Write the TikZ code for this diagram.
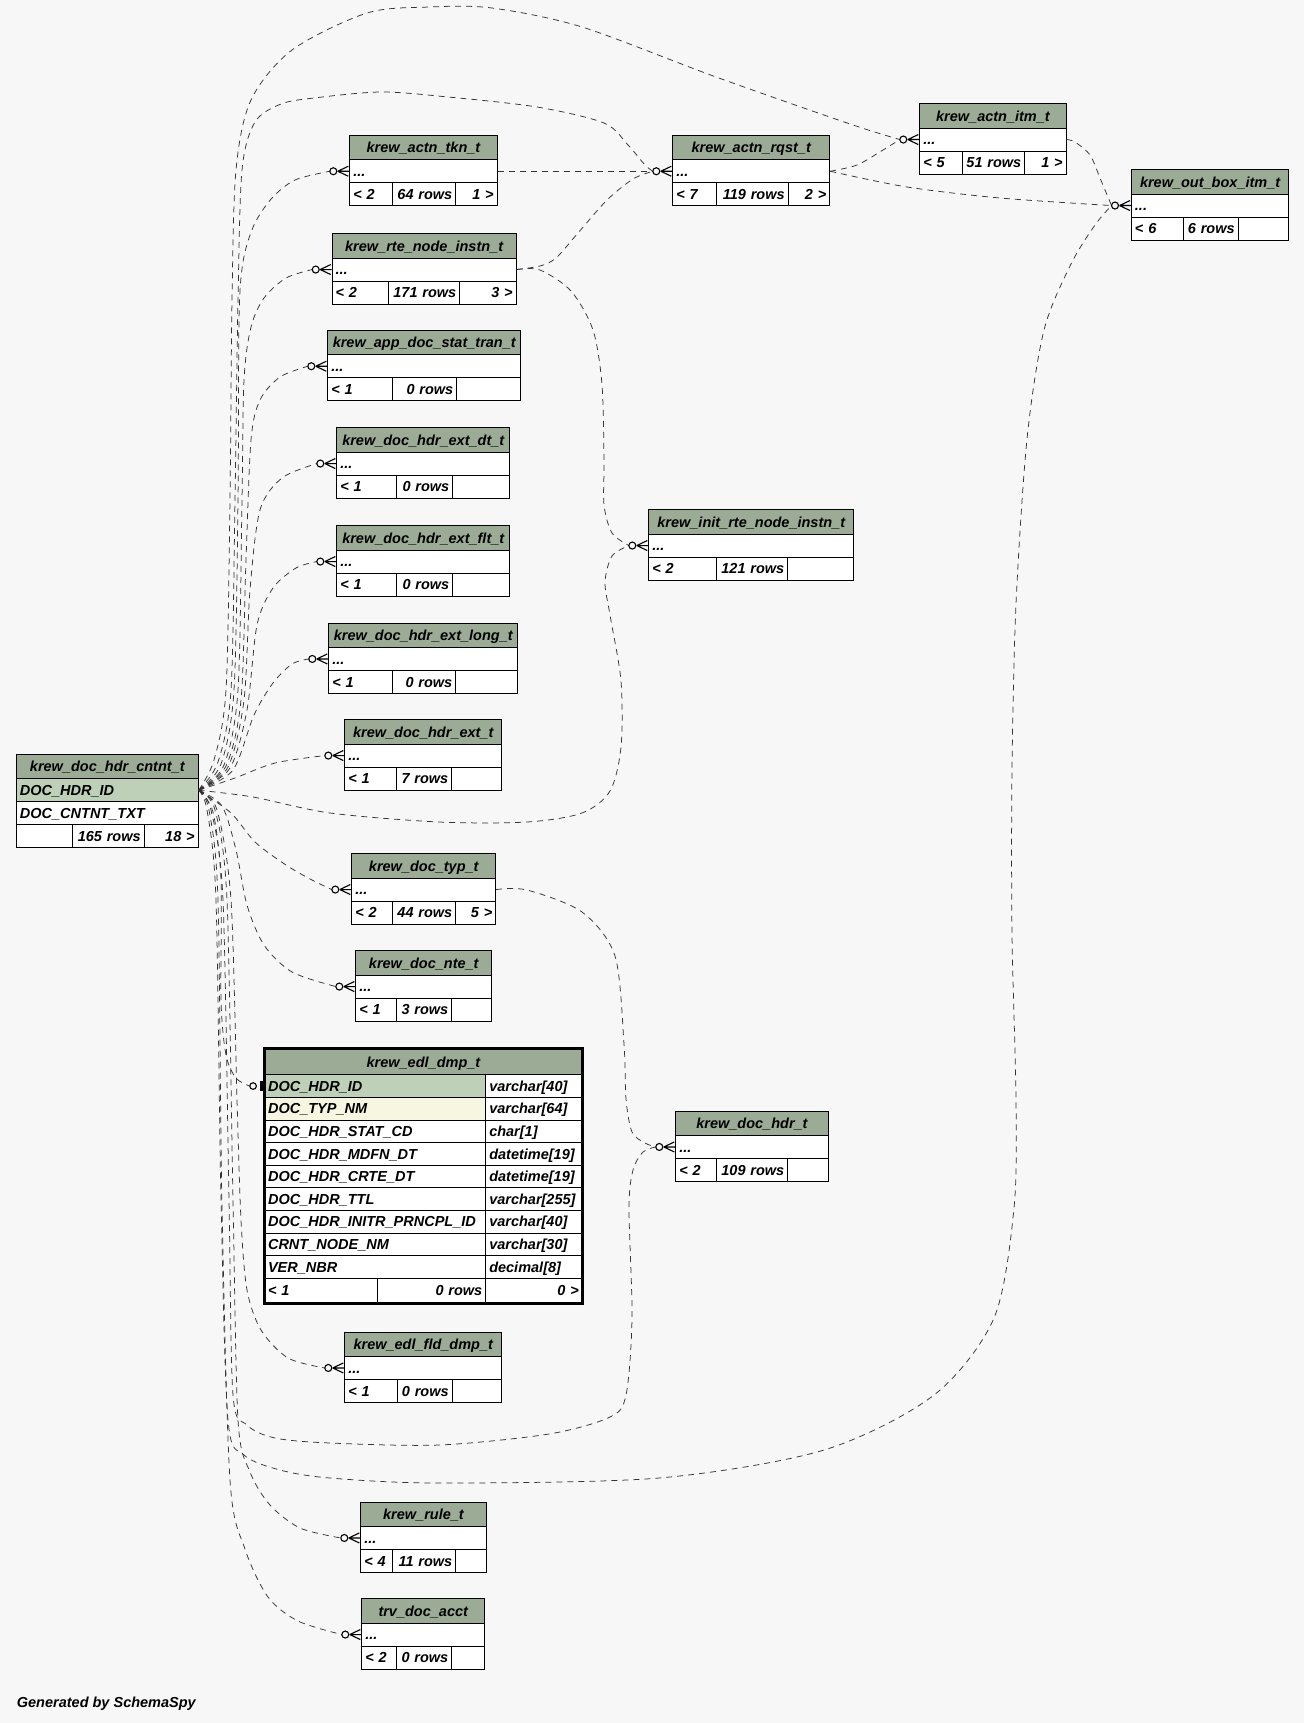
\documentclass[tikz,border=0pt]{standalone}
\usepackage{fontspec}
\setmainfont{Liberation Sans}
\usetikzlibrary{calc}
\definecolor{bgc}{HTML}{F7F7F7}
\definecolor{hdrc}{HTML}{9BAB96}
\definecolor{pkc}{HTML}{BED1B8}
\definecolor{idxc}{HTML}{F7F7E1}
\newcommand\erdfont{\bfseries\itshape\fontsize{14.5}{17}\selectfont}
\tikzset{
  erdbase/.style={draw=black, line width=0.9pt, inner xsep=3.5pt, inner ysep=0pt,
    anchor=north west, font=\erdfont, text height=10.5pt, text depth=0pt},
  rel/.style={draw=black!80, line width=0.75pt, dash pattern=on 6pt off 5pt},
  endsty/.style={draw=black, line width=1.1pt, solid}
}
% footer row: name, xl, xr, y, d1, d2, L, M, R
\newcommand\erdfoot[9]{%
  \pgfmathsetmacro\wa{#5-#2}\pgfmathsetmacro\wai{#5-#2-7}%
  \pgfmathsetmacro\wb{#6-#5}\pgfmathsetmacro\wbi{#6-#5-7}%
  \pgfmathsetmacro\wc{#3-#6}\pgfmathsetmacro\wci{#3-#6-7}%
  \node[erdbase, fill=white, minimum width=\wa pt, minimum height=23pt, text width=\wai pt, align=left] (#1-f1) at (#2,{#4}) {\mbox{#7}};
  \node[erdbase, fill=white, minimum width=\wb pt, minimum height=23pt, text width=\wbi pt, align=right] (#1-f2) at (#5,{#4}) {\mbox{#8}};
  \node[erdbase, fill=white, minimum width=\wc pt, minimum height=23pt, text width=\wci pt, align=right] (#1-f3) at (#6,{#4}) {\mbox{#9}};
}
% table: name, title, xl, xr, ytop, d1, d2, {L}{M}{R}
\newcommand\erdtbl[8]{%
  \pgfmathsetmacro\tw{#4-#3}\pgfmathsetmacro\twi{#4-#3-7}%
  \node[erdbase, fill=hdrc, minimum width=\tw pt, minimum height=24.3pt, text width=\twi pt, align=center] (#1-h) at (#3,#5) {\mbox{#2}};
  \node[erdbase, fill=white, minimum width=\tw pt, minimum height=23pt, text width=\twi pt, align=left] (#1-r) at (#3,{#5+24.3}) {...};
  \coordinate (#1-e) at ($(#1-r.west)+(-19.5,0)$);
  \erdfoot{#1}{#3}{#4}{#5+47.3}{#6}{#7}#8%
}
% zero-or-many end at the west side of a row node
\newcommand\zmany[1]{%
  \draw[endsty, fill=bgc] ($(#1.west)+(-16,0)$) circle[radius=3.5pt];
  \draw[endsty] ($(#1.west)+(-11.5,0)$) -- ($(#1.west)+(-1,5)$)
                ($(#1.west)+(-11.5,0)$) -- (#1.west)
                ($(#1.west)+(-11.5,0)$) -- ($(#1.west)+(-1,-5)$);
}
\begin{document}
\begin{tikzpicture}[x=1pt,y=-1pt]
\fill[bgc] (0,0) rectangle (1304,1723);
\useasboundingbox (0,0) rectangle (1304,1723);

% ---------- parent table ----------
\node[erdbase, fill=hdrc, minimum width=181.7pt, minimum height=24.3pt, text width=174.7pt, align=center] (cntnt-h) at (16,754) {krew\_doc\_hdr\_cntnt\_t};
\node[erdbase, fill=pkc, minimum width=181.7pt, minimum height=23pt, text width=174.7pt, align=left] (cntnt-pk) at (16,778.3) {DOC\_HDR\_ID};
\node[erdbase, fill=white, minimum width=181.7pt, minimum height=23pt, text width=174.7pt, align=left] (cntnt-tx) at (16,801.3) {DOC\_CNTNT\_TXT};
\erdfoot{cntnt}{16}{197.7}{824.3}{72.3}{143.7}{}{165 rows}{18 >}

% ---------- simple tables ----------
\erdtbl{tkn}{krew\_actn\_tkn\_t}{349.3}{496.7}{135}{392.3}{455.3}{{< 2}{64 rows}{1 >}}
\erdtbl{rqst}{krew\_actn\_rqst\_t}{672.3}{829.3}{135}{716}{787.7}{{< 7}{119 rows}{2 >}}
\erdtbl{itm}{krew\_actn\_itm\_t}{919.3}{1065.7}{103.3}{961.7}{1024.3}{{< 5}{51 rows}{1 >}}
\erdtbl{obox}{krew\_out\_box\_itm\_t}{1131}{1288.3}{169.3}{1183.3}{1237.7}{{< 6}{6 rows}{}}
\erdtbl{rte}{krew\_rte\_node\_instn\_t}{331.7}{515.7}{233.3}{388.3}{459.3}{{< 2}{171 rows}{3 >}}
\erdtbl{app}{krew\_app\_doc\_stat\_tran\_t}{327.3}{520.3}{330}{392.3}{456.3}{{< 1}{0 rows}{}}
\erdtbl{edt}{krew\_doc\_hdr\_ext\_dt\_t}{336.3}{509.3}{427.3}{395.7}{452.3}{{< 1}{0 rows}{}}
\erdtbl{eflt}{krew\_doc\_hdr\_ext\_flt\_t}{336.3}{509.3}{525.3}{395.7}{452.3}{{< 1}{0 rows}{}}
\erdtbl{elong}{krew\_doc\_hdr\_ext\_long\_t}{328.3}{517.3}{622.7}{392.3}{455.3}{{< 1}{0 rows}{}}
\erdtbl{ext}{krew\_doc\_hdr\_ext\_t}{344.3}{501.3}{719.3}{396.3}{451.3}{{< 1}{7 rows}{}}
\erdtbl{init}{krew\_init\_rte\_node\_instn\_t}{648.3}{853.3}{509.3}{716.3}{787.3}{{< 2}{121 rows}{}}
\erdtbl{typ}{krew\_doc\_typ\_t}{351.3}{495.3}{853.3}{392.3}{455.3}{{< 2}{44 rows}{5 >}}
\erdtbl{nte}{krew\_doc\_nte\_t}{355.3}{491.3}{950.3}{396.3}{451.3}{{< 1}{3 rows}{}}
\erdtbl{hdr}{krew\_doc\_hdr\_t}{675.3}{827.7}{1110.7}{716.3}{787.3}{{< 2}{109 rows}{}}
\erdtbl{fld}{krew\_edl\_fld\_dmp\_t}{344.3}{501.3}{1331.7}{396.7}{451.7}{{< 1}{0 rows}{}}
\erdtbl{rule}{krew\_rule\_t}{360.3}{485.7}{1501.7}{392.3}{455.3}{{< 4}{11 rows}{}}
\erdtbl{trv}{trv\_doc\_acct}{361.3}{484.3}{1598.3}{396}{451.3}{{< 2}{0 rows}{}}

% ---------- krew_edl_dmp_t (focus table) ----------
\node[erdbase, fill=hdrc, minimum width=317.8pt, minimum height=25.6pt, text width=310.8pt, align=center] (edl-h) at (264.1,1048.7) {krew\_edl\_dmp\_t};
\foreach \nm/\ty/\cl [count=\i from 0] in {DOC\_HDR\_ID/varchar[40]/pkc, DOC\_TYP\_NM/varchar[64]/idxc, DOC\_HDR\_STAT\_CD/char[1]/white, DOC\_HDR\_MDFN\_DT/datetime[19]/white, DOC\_HDR\_CRTE\_DT/datetime[19]/white, DOC\_HDR\_TTL/varchar[255]/white, DOC\_HDR\_INITR\_PRNCPL\_ID/varchar[40]/white, CRNT\_NODE\_NM/varchar[30]/white, VER\_NBR/decimal[8]/white}{
  \node[erdbase, fill=\cl, minimum width=221.2pt, minimum height=22.6pt, text width=214.2pt, align=left] (edl-c\i) at (264.1,{1074.3+22.6*\i}) {\mbox{\nm}};
  \node[erdbase, fill=white, minimum width=96.6pt, minimum height=22.6pt, text width=89.6pt, align=left] (edl-t\i) at (485.3,{1074.3+22.6*\i}) {\mbox{\ty}};
}
\node[erdbase, fill=white, minimum width=112.6pt, minimum height=24.9pt, text width=105.6pt, align=left] (edl-f1) at (264.1,1277.7) {< 1};
\node[erdbase, fill=white, minimum width=108.6pt, minimum height=24.9pt, text width=101.6pt, align=right] (edl-f2) at (376.7,1277.7) {0 rows};
\node[erdbase, fill=white, minimum width=96.6pt, minimum height=24.9pt, text width=89.6pt, align=right] (edl-f3) at (485.3,1277.7) {0 >};
\draw[line width=2.8pt] (edl-h.north west) rectangle (edl-f3.south east);
\coordinate (edl-e) at ($(edl-c0.west)+(-14.5,0)$);

% ---------- relationships from krew_doc_hdr_cntnt_t ----------
\draw[rel] plot[smooth, tension=0.5] coordinates {(cntnt-pk.east) (214,760) (226,690) (230,500) (232,300) (236,170) (251,100) (292,50) (367,13) (430,7) (492,8) (582,27) (716,77) (850,124) (itm-e)};
\draw[rel] plot[smooth, tension=0.5] coordinates {(cntnt-pk.east) (218,762) (231,690) (235,500) (238,300) (242,170) (255,122) (281,104) (314,98) (381,92) (448,97) (537,107) (604,123) (628,145) (645,165) (rqst-e)};
\draw[rel] plot[smooth, tension=0.5] coordinates {(cntnt-pk.east) (221,764) (234,690) (238,500) (239,320) (243,262) (254,225) (272,198) (295,180) (tkn-e)};
\draw[rel] plot[smooth, tension=0.5] coordinates {(cntnt-pk.east) (224,765) (238,690) (242,500) (244,380) (251,327) (264,298) (286,278) (rte-e)};
\draw[rel] plot[smooth, tension=0.5] coordinates {(cntnt-pk.east) (226,766) (241,700) (246,560) (251,440) (260,400) (280,377) (app-e)};
\draw[rel] plot[smooth, tension=0.5] coordinates {(cntnt-pk.east) (228,767) (244,700) (250,590) (260,510) (282,478) (edt-e)};
\draw[rel] plot[smooth, tension=0.5] coordinates {(cntnt-pk.east) (230,768) (247,710) (257,625) (273,588) (296,568) (eflt-e)};
\draw[rel] plot[smooth, tension=0.5] coordinates {(cntnt-pk.east) (233,770) (254,715) (273,683) (292,664) (elong-e)};
\draw[rel] plot[smooth, tension=0.5] coordinates {(cntnt-pk.east) (235,778) (275,763) (ext-e)};
\draw[rel] plot[smooth, tension=0.5] coordinates {(cntnt-pk.east) (253,797) (330,813) (439,822) (527,822) (582,813) (610,791) (621,747) (621,681) (610,615) (605,582) (612,556) (init-e)};
\draw[rel] plot[smooth, tension=0.5] coordinates {(cntnt-pk.east) (231,813) (255,842) (286,865) (312,880) (typ-e)};
\draw[rel] plot[smooth, tension=0.5] coordinates {(cntnt-pk.east) (222,806) (236,850) (247,905) (264,945) (292,972) (nte-e)};
\draw[rel] plot[smooth, tension=0.5] coordinates {(cntnt-pk.east) (213,812) (221,880) (221,1000) (226,1055) (236,1078) (edl-e)};
\draw[rel] plot[smooth, tension=0.5] coordinates {(cntnt-pk.east) (217,810) (231,900) (237,1100) (241,1220) (247,1290) (261,1330) (288,1358) (fld-e)};
\draw[rel] plot[smooth, tension=0.5] coordinates {(cntnt-pk.east) (215,810) (227,900) (233,1200) (238,1420) (250,1472) (270,1505) (300,1528) (rule-e)};
\draw[rel] plot[smooth, tension=0.5] coordinates {(cntnt-pk.east) (209,810) (218,900) (222,1208) (230,1480) (245,1549) (268,1597) (298,1621) (trv-e)};
\draw[rel] plot[smooth, tension=0.5] coordinates {(cntnt-pk.east) (211,810) (223,900) (229,1200) (233,1395) (247,1425) (275,1438) (330,1443) (439,1445) (549,1434) (610,1417) (626,1395) (632,1318) (629,1208) (633,1170) (643,1152) (hdr-e)};
\draw[rel] plot[smooth, tension=0.5] coordinates {(cntnt-pk.east) (207,810) (216,900) (221,1200) (228,1420) (244,1455) (280,1470) (330,1478) (439,1483) (659,1478) (824,1450) (934,1395) (994,1318) (1014,1208) (1016,1099) (1012,934) (1012,769) (1016,604) (1027,439) (1044,330) (1071,264) (1095,225) (obox-e)};

% ---------- other relationships ----------
\draw[rel] (tkn-r.east) -- (rqst-e);
\draw[rel] plot[smooth, tension=0.5] coordinates {(rte-r.east) (540,266) (556,258) (578,233) (607,200) (633,179) (rqst-e)};
\draw[rel] plot[smooth, tension=0.5] coordinates {(rte-r.east) (540,270) (571,291) (593,330) (602,385) (604,461) (604,505) (612,533) (init-e)};
\draw[rel] plot[smooth, tension=0.5] coordinates {(rqst-r.east) (857,165) (883,150) (itm-e)};
\draw[rel] plot[smooth, tension=0.5] coordinates {(rqst-r.east) (907,187) (1000,198) (obox-e)};
\draw[rel] plot[smooth, tension=0.5] coordinates {(itm-r.east) (1075,142) (1090,155) (1100,178) (obox-e)};
\draw[rel] plot[smooth, tension=0.5] coordinates {(typ-r.east) (527,890) (582,912) (615,956) (624,1044) (626,1099) (632,1132) (645,1143) (hdr-e)};

% ---------- end markers ----------
\foreach \t in {tkn,rqst,itm,obox,rte,app,edt,eflt,elong,ext,init,typ,nte,hdr,fld,rule,trv}{\zmany{\t-r}}
\draw[endsty, fill=bgc] ($(edl-c0.west)+(-11,0)$) circle[radius=3.3pt];
\fill ($(edl-c0.west)+(-4.3,-5)$) rectangle ($(edl-c0.west)+(-1.3,5)$);

\node[font=\erdfont, anchor=west, inner sep=0pt] (gen) at (16.7,1704) {Generated by SchemaSpy};
\end{tikzpicture}
\end{document}
